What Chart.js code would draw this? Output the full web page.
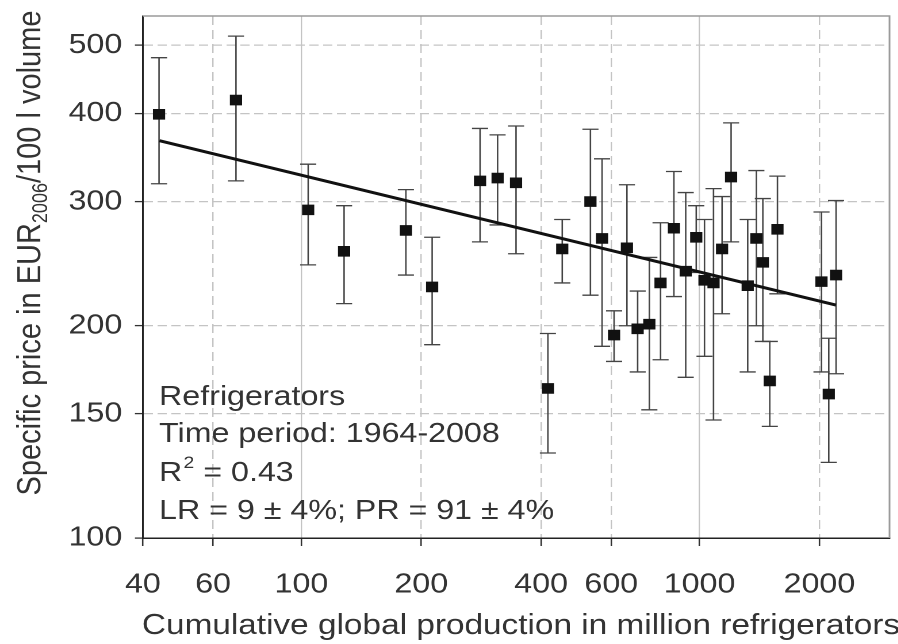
<!DOCTYPE html>
<html>
<head>
<meta charset="utf-8">
<script src="https://cdn.jsdelivr.net/npm/chart.js@4.4.1/dist/chart.umd.min.js"></script>
<style>
  html, body { margin: 0; padding: 0; background: #fff; overflow: hidden; }
  /* the source figure is stretched horizontally, so the whole canvas is too */
  #wrap { position: relative; width: 781px; height: 644px; transform: scaleX(1.15); transform-origin: 0 0; }
</style>
</head>
<body>
<div id="wrap"><canvas id="chart"></canvas></div>
<script>
// cumulative production (million units) and price (EUR2006 / 100 l)
const production = [43.9, 68.5, 104, 128, 183, 213, 281, 311, 346, 416, 452, 532, 569, 610, 657, 699, 748,
  798, 862, 923, 981, 1029, 1084, 1139, 1200, 1321, 1389, 1442, 1501, 1569, 2024, 2111, 2202];
const price = [399, 418, 292, 255, 273, 227, 321, 324, 319, 163, 257, 300, 266, 194, 258, 198, 201,
  230, 275, 239, 267, 232, 230, 257, 325, 228, 266, 246, 167, 274, 231, 160, 236];
const priceLow = [318, 321, 244, 215, 236, 188, 263, 278, 253, 132, 230, 221, 187, 178, 200, 172, 152,
  179, 220, 169, 238, 181, 147, 208, 263, 172, 200, 190, 144, 222, 172, 128, 171];
const priceHigh = [480, 515, 339, 296, 312, 267, 381, 373, 384, 195, 283, 380, 345, 210, 317, 224, 250,
  280, 331, 309, 296, 283, 313, 305, 388, 283, 332, 303, 190, 326, 290, 192, 301];

// fitted experience curve
const fitProduction = [44, 2200];
const fitPrice = [366, 214];

const xTicks = [40, 60, 100, 200, 400, 600, 1000, 2000];
const yTicks = [100, 150, 200, 300, 400, 500];
const solidX = [100, 1000];

const FONT = "'Liberation Sans', Arial, sans-serif";
const TXT = '#333';

const decor = {
  id: 'decor',
  beforeDatasetsDraw(chart) {
    const { ctx, chartArea: a } = chart;
    const xs = chart.scales.x, ys = chart.scales.y;
    ctx.save();
    // light frame on top and right
    ctx.strokeStyle = '#9a9a9a';
    ctx.lineWidth = 1.5;
    ctx.beginPath();
    ctx.moveTo(a.left, a.top);
    ctx.lineTo(a.right, a.top);
    ctx.lineTo(a.right, a.bottom);
    ctx.stroke();
    // error bars
    ctx.strokeStyle = '#444';
    ctx.lineWidth = 1.3;
    production.forEach((p, i) => {
      const px = xs.getPixelForValue(p);
      const t = ys.getPixelForValue(priceHigh[i]);
      const b = ys.getPixelForValue(priceLow[i]);
      ctx.beginPath();
      ctx.moveTo(px, t); ctx.lineTo(px, b);
      ctx.moveTo(px - 7, t); ctx.lineTo(px + 7, t);
      ctx.moveTo(px - 7, b); ctx.lineTo(px + 7, b);
      ctx.stroke();
    });
    ctx.restore();
  },
  afterDraw(chart) {
    const { ctx, chartArea: a } = chart;
    ctx.save();
    ctx.fillStyle = TXT;
    ctx.textBaseline = 'alphabetic';

    // x title
    ctx.font = '29px ' + FONT;
    ctx.textAlign = 'center';
    ctx.fillText('Cumulative global production in million refrigerators', 453, 634);

    // y title with subscript
    const parts = [
      ['Specific price in EUR', 29, 0],
      ['2006', 18, 6],
      ['/100 l volume', 29, 0]
    ];
    let total = 0;
    parts.forEach(p => { ctx.font = p[1] + 'px ' + FONT; total += ctx.measureText(p[0]).width; });
    ctx.translate(35, 253);
    ctx.rotate(-Math.PI / 2);
    ctx.textAlign = 'left';
    let cx = -total / 2;
    parts.forEach(p => {
      ctx.font = p[1] + 'px ' + FONT;
      ctx.fillText(p[0], cx, p[2]);
      cx += ctx.measureText(p[0]).width;
    });
    ctx.restore();

    // annotation
    ctx.save();
    ctx.fillStyle = TXT;
    ctx.textAlign = 'left';
    ctx.textBaseline = 'alphabetic';
    const lx = a.left + 14;
    ctx.font = '28px ' + FONT;
    ctx.fillText('Refrigerators', lx, 405);
    ctx.fillText('Time period: 1964-2008', lx, 442);
    ctx.fillText('R', lx, 481);
    let w = ctx.measureText('R').width;
    ctx.font = '17px ' + FONT;
    ctx.fillText('2', lx + w + 1, 468);
    w += ctx.measureText('2').width + 1;
    ctx.font = '28px ' + FONT;
    ctx.fillText(' = 0.43', lx + w, 481);
    ctx.fillText('LR = 9 \u00b1 4%; PR = 91 \u00b1 4%', lx, 519);
    ctx.restore();
  }
};

new Chart(document.getElementById('chart'), {
  type: 'scatter',
  data: {
    datasets: [
      {
        data: production.map((v, i) => ({ x: v, y: price[i] })),
        pointStyle: 'rect',
        pointRadius: 7.5,
        backgroundColor: '#111',
        borderWidth: 0
      },
      {
        type: 'line',
        data: fitProduction.map((v, i) => ({ x: v, y: fitPrice[i] })),
        borderColor: '#111',
        borderWidth: 3,
        pointRadius: 0,
        fill: false
      }
    ]
  },
  options: {
    responsive: true,
    maintainAspectRatio: false,
    animation: false,
    devicePixelRatio: 2,
    layout: { padding: { top: 16, right: 3.6, left: 0, bottom: 0 } },
    plugins: { legend: { display: false }, tooltip: { enabled: false } },
    scales: {
      x: {
        type: 'logarithmic',
        min: 40,
        max: 3000,
        afterBuildTicks: s => { s.ticks = xTicks.map(v => ({ value: v })); },
        afterFit: s => { s.height = 106; s.paddingLeft = 0; s.paddingRight = 0; },
        ticks: {
          autoSkip: false,
          maxRotation: 0,
          padding: 22,
          color: TXT,
          font: { family: FONT, size: 28 },
          callback: v => String(v)
        },
        grid: {
          color: '#c4c4c4',
          lineWidth: 1.2,
          tickLength: 8,
          tickColor: '#333',
          tickWidth: 1.3
        },
        border: {
          color: '#222',
          width: 1.5,
          dash: c => (c.tick && solidX.includes(c.tick.value)) ? [] : [9, 5]
        }
      },
      y: {
        type: 'logarithmic',
        min: 100,
        max: 550,
        afterBuildTicks: s => { s.ticks = yTicks.map(v => ({ value: v })); },
        afterFit: s => { s.width = 124.3; s.paddingTop = 0; s.paddingBottom = 0; },
        ticks: {
          autoSkip: false,
          padding: 11,
          color: TXT,
          font: { family: FONT, size: 28 },
          callback: v => String(v)
        },
        grid: {
          color: '#c4c4c4',
          lineWidth: 1.2,
          tickLength: 7,
          tickColor: '#333',
          tickWidth: 1.3
        },
        border: {
          color: '#222',
          width: 1.5,
          dash: [8, 4]
        }
      }
    }
  },
  plugins: [decor]
});
</script>
</body>
</html>
